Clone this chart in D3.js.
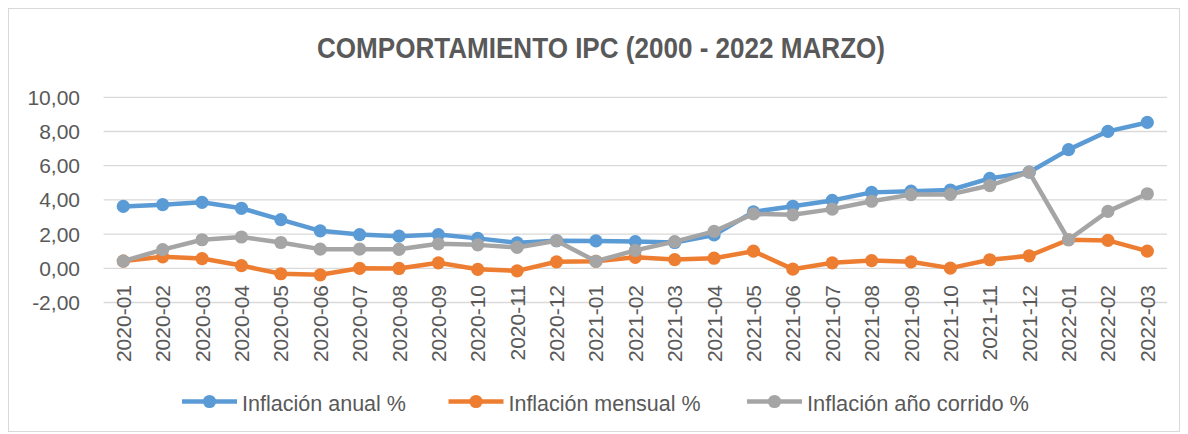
<!DOCTYPE html>
<html>
<head>
<meta charset="utf-8">
<script src="https://cdnjs.cloudflare.com/ajax/libs/d3/7.8.5/d3.min.js"></script>
<style>
  body { margin: 0; background: #fff; }
  text { font-family: "Liberation Sans", Arial, sans-serif; fill: #595959; }
</style>
</head>
<body>
<svg id="chart" width="1188" height="434"></svg>
<script>
// categories (mes)
var months = ["2020-01","2020-02","2020-03","2020-04","2020-05","2020-06","2020-07","2020-08","2020-09","2020-10","2020-11","2020-12",
              "2021-01","2021-02","2021-03","2021-04","2021-05","2021-06","2021-07","2021-08","2021-09","2021-10","2021-11","2021-12",
              "2022-01","2022-02","2022-03"];

var anual   = [3.62, 3.72, 3.86, 3.51, 2.85, 2.19, 1.97, 1.88, 1.97, 1.75, 1.49, 1.61,
               1.60, 1.56, 1.51, 1.95, 3.30, 3.63, 3.97, 4.44, 4.51, 4.58, 5.26, 5.62,
               6.94, 8.01, 8.53];
var mensual = [0.42, 0.67, 0.57, 0.16, -0.32, -0.38, 0.00, -0.01, 0.32, -0.06, -0.15, 0.38,
               0.41, 0.64, 0.51, 0.59, 1.00, -0.05, 0.32, 0.45, 0.38, 0.01, 0.50, 0.73,
               1.67, 1.63, 1.00];
var corrido = [0.42, 1.09, 1.67, 1.83, 1.51, 1.12, 1.12, 1.11, 1.43, 1.37, 1.22, 1.61,
               0.41, 1.05, 1.56, 2.16, 3.18, 3.13, 3.46, 3.92, 4.31, 4.32, 4.84, 5.62,
               1.67, 3.33, 4.36];

var seriesNames = ["Inflación anual %", "Inflación mensual %", "Inflación año corrido %"];
var seriesColors = ["#5b9bd5", "#ed7d31", "#a5a5a5"];
var yTicks = [-2, 0, 2, 4, 6, 8, 10];

var series = [anual, mensual, corrido].map(function(vals, i){
  return {name: seriesNames[i], color: seriesColors[i], values: vals};
});

var locale = d3.formatLocale({decimal: ",", thousands: ".", grouping: [3], currency: ["$", ""], minus: "-"});
var fmt = locale.format(".2f");

var svg = d3.select("#chart");

// outer border
svg.append("rect")
  .attr("x", 8.5).attr("y", 8.5)
  .attr("width", 1171).attr("height", 423)
  .attr("fill", "none")
  .attr("stroke", "#d9d9d9")
  .attr("stroke-width", 1);

// title
svg.append("text")
  .attr("x", 601).attr("y", 58)
  .attr("text-anchor", "middle")
  .attr("font-size", 29)
  .attr("font-weight", "bold")
  .attr("textLength", 568)
  .attr("lengthAdjust", "spacingAndGlyphs")
  .text("COMPORTAMIENTO IPC (2000 - 2022 MARZO)");

var plot = {left: 103.6, right: 1167, top: 97.3, bottom: 302.5};

var x = d3.scalePoint()
  .domain(months)
  .range([plot.left, plot.right])
  .padding(0.5);

var y = d3.scaleLinear()
  .domain([-2, 10])
  .range([plot.bottom, plot.top]);

// gridlines
svg.append("g")
  .selectAll("line")
  .data(yTicks)
  .enter().append("line")
  .attr("x1", plot.left).attr("x2", plot.right)
  .attr("y1", function(d){ return y(d); })
  .attr("y2", function(d){ return y(d); })
  .attr("stroke", "#d9d9d9")
  .attr("stroke-width", 1.3);

// y labels
svg.append("g")
  .selectAll("text")
  .data(yTicks)
  .enter().append("text")
  .attr("x", 80)
  .attr("y", function(d){ return y(d); })
  .attr("dy", "0.36em")
  .attr("text-anchor", "end")
  .attr("font-size", 21)
  .text(function(d){ return fmt(d); });

// x labels (rotated)
svg.append("g")
  .selectAll("text")
  .data(months)
  .enter().append("text")
  .attr("transform", function(d){ return "translate(" + x(d) + ",285) rotate(-90)"; })
  .attr("dy", "0.36em")
  .attr("text-anchor", "end")
  .attr("font-size", 21)
  .text(function(d){ return d; });

var line = d3.line()
  .x(function(d, i){ return x(months[i]); })
  .y(function(d){ return y(d); });

var sg = svg.append("g")
  .selectAll("g.series")
  .data(series)
  .enter().append("g")
  .attr("class", "series");

sg.append("path")
  .attr("d", function(d){ return line(d.values); })
  .attr("fill", "none")
  .attr("stroke", function(d){ return d.color; })
  .attr("stroke-width", 4.5)
  .attr("stroke-linejoin", "round");

sg.each(function(s){
  d3.select(this).selectAll("circle")
    .data(s.values)
    .enter().append("circle")
    .attr("cx", function(d, i){ return x(months[i]); })
    .attr("cy", function(d){ return y(d); })
    .attr("r", 6.6)
    .attr("fill", s.color);
});

// legend
var legX = [182, 448.5, 747];
var legW = [164, 192, 222];
var legY = 401.5;
var legend = svg.selectAll("g.legend-item")
  .data(series)
  .enter().append("g")
  .attr("class", "legend-item")
  .attr("transform", function(d, i){ return "translate(" + legX[i] + "," + legY + ")"; });

legend.append("line")
  .attr("x1", 0).attr("x2", 55)
  .attr("stroke", function(d){ return d.color; })
  .attr("stroke-width", 4.5);

legend.append("circle")
  .attr("cx", 27.5).attr("r", 6.6)
  .attr("fill", function(d){ return d.color; });

legend.append("text")
  .attr("x", 60)
  .attr("y", 9)
  .attr("font-size", 22)
  .attr("textLength", function(d, i){ return legW[i]; })
  .attr("lengthAdjust", "spacingAndGlyphs")
  .text(function(d){ return d.name; });
</script>
</body>
</html>
